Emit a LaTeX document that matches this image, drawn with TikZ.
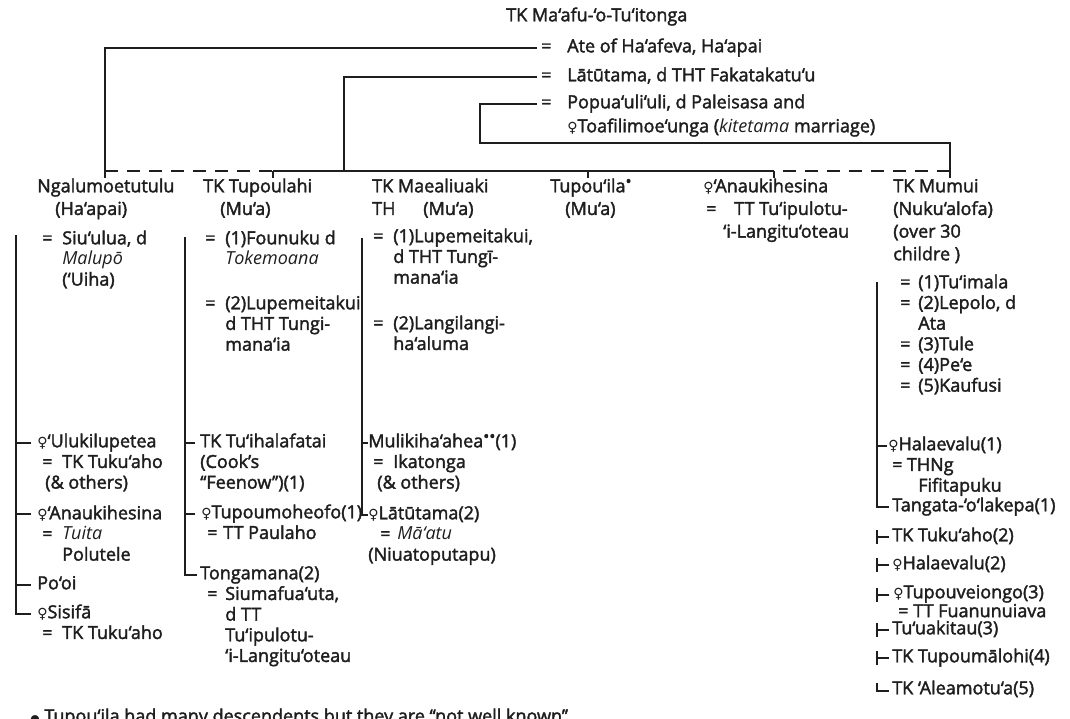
\documentclass[tikz,border=0pt]{standalone}
\usepackage{fontspec}
\usepackage{graphicx}
\setmainfont{Open Sans}[BoldFont={Open Sans}, BoldFeatures={FakeBold=2}]
\newfontfamily\symf{DejaVu Sans}

\definecolor{ink}{RGB}{30,30,30}

% marriage sign with a fixed gap, indent, female sign, small raised bullet
\newcommand\eqs[1][15pt]{\makebox[#1][l]{=}}
\newcommand\ind[1][15pt]{\hspace*{#1}}
\newcommand\fem{{\symf\scalebox{0.78}{♀}}}
\newcommand\dotmark{\raisebox{0.55ex}{\scalebox{0.9}{•}}}
\newcommand\st{\rule{0pt}{10.5pt}}

\tikzset{
  txt/.style={anchor=north west, inner sep=0pt, align=left, text=ink,
              font=\fontsize{13.5}{15.5}\selectfont\bfseries},
  hdr/.style={txt, font=\fontsize{13.5}{17}\selectfont\bfseries},
  tight/.style={txt, font=\fontsize{13.5}{13}\selectfont\bfseries},
  kin/.style={draw=ink, line width=1.3pt},
  half/.style={kin, dash pattern=on 10pt off 6.5pt},
}

\begin{document}
\begin{tikzpicture}[x=0.75pt,y=-0.75pt]
\useasboundingbox (0,0) rectangle (1070,718);
\fill[white] (0,0) rectangle (1070,718);

% ---------- founder and his wives ----------
\node[txt] (title) at (506,7)  {\st TK Ma‘afu-‘o-Tu‘itonga};
\node[txt] (ate)   at (541,38) {\st\eqs[19.5pt]Ate of Ha‘afeva, Ha‘apai};
\node[txt] (lat)   at (541,67) {\st\eqs[19.5pt]Lātūtama, d THT Fakatakatu‘u};
\node[txt] (pop)   at (541,94) {\st\eqs[19.5pt]Popua‘uli‘uli, d Paleisasa and};
\node[txt] (popb)  at (567,118) {\st\fem Toafilimoe‘unga (\textit{kitetama} marriage)};

\coordinate (ateL) at (537,48);
\coordinate (latL) at (537,77);
\coordinate (popL) at (537,104);
\coordinate (popB) at (480,143);
\coordinate (J1) at (105,171);
\coordinate (J2) at (273,171);
\coordinate (J3) at (344,171);
\coordinate (J4) at (588,171);
\coordinate (J5) at (774,171);
\coordinate (J6) at (950,171);

\draw[kin] (ateL) -| (J1);
\draw[kin] (latL) -| (J3);
\draw[kin] (popL) -| (popB) -| (J6);

% sibling line
\draw[half] (J1) -- (J2);
\draw[kin]  (J2) -- (J5);
\draw[half, dash phase=10pt] (J5) -- (J6);
\foreach \j in {J1,J2,J4,J5,J6} \draw[kin] (\j) -- ++(0,7);

% ---------- the children ----------
\node[hdr] (ngalu) at (37,178)  {\st Ngalumoetutulu\\\ind[13.5pt](Ha‘apai)};
\node[hdr] (tupl)  at (203,178) {\st TK Tupoulahi\\\ind[12.75pt](Mu‘a)};
\node[hdr] (maea)  at (372,178) {\st TK Maealiuaki\\\makebox[38.25pt][l]{TH}(Mu‘a)};
\node[hdr] (tupi)  at (550,178) {\st Tupou‘ila\dotmark\\\ind[11.25pt](Mu‘a)};
\node[hdr] (anau)  at (703,178) {\st\fem‘Anaukihesina\\\ind[2.25pt]\eqs[21pt]TT Tu‘ipulotu-\\\ind[15pt]‘i-Langitu‘oteau};
\node[hdr] (mumu)  at (893,178) {\st TK Mumui\\(Nuku‘alofa)\\(over 30\\childre )};

% ---------- marriages ----------
\node[txt] (ngm)  at (42,230)  {\st\eqs Siu‘ulua, d\\\ind\textit{Malupō}\\\ind(‘Uiha)};
\node[txt] (tpm1) at (205,230) {\st\eqs(1)Founuku d\\\ind\textit{Tokemoana}};
\node[txt] (tpm2) at (205,295) {\st\eqs(2)Lupemeitakui\\\ind d THT Tungi-\\\ind mana‘ia};
\node[txt] (mam1) at (373,228) {\st\eqs(1)Lupemeitakui,\\\ind d THT Tungī-\\\ind mana‘ia};
\node[txt] (mam2) at (373,315) {\st\eqs(2)Langilangi-\\\ind ha‘aluma};
\node[txt] (mum)  at (900,274) {\st\eqs[13.5pt](1)Tu‘imala\\\eqs[13.5pt](2)Lepolo, d\\\ind[13.5pt]Ata\\\eqs[13.5pt](3)Tule\\\eqs[13.5pt](4)Pe‘e\\\eqs[13.5pt](5)Kaufusi};

% ---------- grandchildren: Ngalumoetutulu ----------
\node[txt] (ngc1) at (37,433) {\st\fem‘Ulukilupetea\\\ind[3.75pt]\eqs TK Tuku‘aho\\\ind[6pt](\& others)};
\node[txt] (ngc2) at (37,505) {\st\fem‘Anaukihesina\\\ind[3.75pt]\eqs\textit{Tuita}\\\ind[18.75pt]Polutele};
\node[txt] (ngc3) at (37,575) {\st Po‘oi};
\node[txt] (ngc4) at (37,604) {\st\fem Sisifā\\\ind[3.75pt]\eqs TK Tuku‘aho};

\coordinate (ngT) at (16,235);
\coordinate (ngB) at (16,614);
\draw[kin] (ngT) -- (ngB) -- ++(15,0);
\foreach \y in {443,514,585} \draw[kin] (16,\y) -- ++(15,0);

% ---------- grandchildren: Tupoulahi ----------
\node[txt] (tpc1) at (200,433) {\st TK Tu‘ihalafatai\\(Cook’s\\‘‘Feenow’’)(1)};
\node[txt] (tpc2) at (201,504) {\st\fem Tupoumoheofo(1)\\\ind[4.5pt]\eqs[12pt]TT Paulaho};
\node[txt] (tpc3) at (200,565) {\st Tongamana(2)\\\ind[5.25pt]\eqs[13.5pt]Siumafua‘uta,\\\ind[18.75pt]d TT\\\ind[18.75pt]Tu‘ipulotu-\\\ind[18.75pt]‘i-Langitu‘oteau};

\coordinate (tpT) at (185,237);
\coordinate (tpB) at (185,575);
\draw[kin] (tpT) -- (tpB) -- ++(12,0);
\foreach \y in {443,514} \draw[kin] (185,\y) -- ++(10,0);

% ---------- grandchildren: Maealiuaki ----------
\node[txt] (mac1) at (368,433) {\st Mulikiha‘ahea\dotmark\dotmark(1)\\\ind[3.75pt]\eqs Ikatonga\\\ind[6.75pt](\& others)};
\node[txt] (mac2) at (368,505) {\st\fem Lātūtama(2)\\\ind[9pt]\eqs[12.75pt]\textit{Mā‘atu}\\(Niuatoputapu)};

\coordinate (maT) at (362,238);
\coordinate (maB) at (362,515);
\draw[kin] (maT) -- (maB) -- ++(6,0);
\draw[kin] (362,443) -- ++(6,0);

% ---------- grandchildren: Mumui ----------
\node[txt] (muc1) at (888,436) {\st\fem Halaevalu(1)\\\ind[3pt]\eqs[11pt]THNg\\\ind[22.5pt]Fifitapuku};
\node[txt] (muc2) at (892,497) {\st Tangata-‘o‘lakepa(1)};
\node[txt] (muc3) at (892,527) {\st TK Tuku‘aho(2)};
\node[txt] (muc4) at (892,555) {\st\fem Halaevalu(2)};
\node[tight] (muc5) at (893,584) {\st\fem Tupouveiongo(3)\\\ind[3.75pt]\eqs[11.25pt]TT Fuanunuiava};
\node[txt] (muc6) at (892,620) {\st Tu‘uakitau(3)};
\node[txt] (muc7) at (892,648) {\st TK Tupoumālohi(4)};
\node[txt] (muc8) at (892,680) {\st TK ‘Aleamotu‘a(5)};

\coordinate (muT) at (877,282);
\coordinate (muB) at (877,507);
\draw[kin] (muT) -- (muB) -- ++(12,0);
\draw[kin] (877,446) -- ++(10,0);
\foreach \y in {537,565,595,630,658}
  \draw[kin] (877,\y-7) -- (877,\y+7) (877,\y) -- ++(12,0);
\draw[kin] (877,683) -- (877,691) -- ++(12,0);

% ---------- footnote ----------
\node[txt] (note) at (30,708) {\st{\symf\scalebox{0.6}{●}} Tupou‘ila had many descendents but they are ‘‘not well known’’};
\end{tikzpicture}
\end{document}
